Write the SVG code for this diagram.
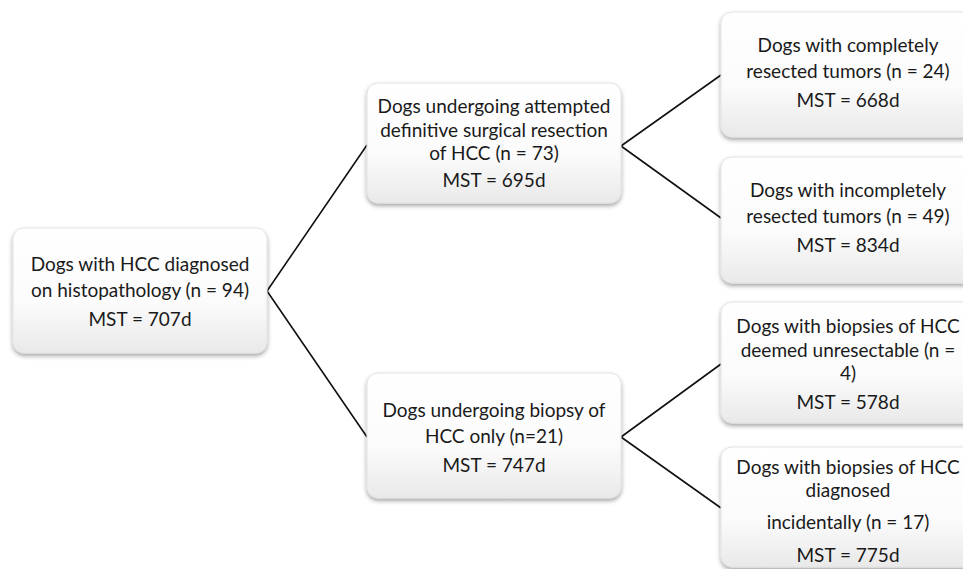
<svg xmlns="http://www.w3.org/2000/svg" width="963" height="569" viewBox="0 0 963 569">
<style>
.box{fill:url(#g);stroke:#e2e2e2;stroke-width:1;filter:url(#sh)}
.t{font-family:Lato,"Liberation Sans",sans-serif;font-size:19px;fill:#1a1a1a;text-anchor:middle}
.c{stroke:#111;stroke-width:1.6;fill:none}
</style>
<defs>
<linearGradient id="g" x1="0" y1="0" x2="0" y2="1">
<stop offset="0" stop-color="#ffffff"/>
<stop offset="0.6" stop-color="#fbfbfb"/>
<stop offset="1" stop-color="#e9e9e9"/>
</linearGradient>
<filter id="sh" x="-10%" y="-10%" width="120%" height="125%">
<feDropShadow dx="0" dy="2.5" stdDeviation="2" flood-color="#000" flood-opacity="0.35"/>
</filter>
</defs>
<rect width="963" height="569" fill="#fff"/>
<g id="connectors">
<path class="c" d="M267 291 L367 145 M267 291 L367 437"/>
<path class="c" d="M621 146 L721 75 M621 146 L721 218"/>
<path class="c" d="M621 437 L721 364 M621 437 L721 508"/>
</g>
<g id="root">
<rect class="box" x="13" y="228" width="254" height="125" rx="11"/>
<text class="t" x="140" y="271">Dogs with HCC diagnosed</text>
<text class="t" x="140" y="297">on histopathology (n = 94)</text>
<text class="t" x="140" y="326">MST = 707d</text>
</g>
<g id="resection">
<rect class="box" x="367" y="83" width="254" height="120" rx="11"/>
<text class="t" x="494" y="113">Dogs undergoing attempted</text>
<text class="t" x="494" y="137">definitive surgical resection</text>
<text class="t" x="494" y="160">of HCC (n = 73)</text>
<text class="t" x="494" y="187">MST = 695d</text>
</g>
<g id="biopsy">
<rect class="box" x="367" y="373" width="254" height="125" rx="11"/>
<text class="t" x="494" y="417">Dogs undergoing biopsy of</text>
<text class="t" x="494" y="443">HCC only (n=21)</text>
<text class="t" x="494" y="472">MST = 747d</text>
</g>
<g id="complete">
<rect class="box" x="721" y="12" width="254" height="125" rx="11"/>
<text class="t" x="848" y="52">Dogs with completely</text>
<text class="t" x="848" y="78">resected tumors (n = 24)</text>
<text class="t" x="848" y="107">MST = 668d</text>
</g>
<g id="incomplete">
<rect class="box" x="721" y="157" width="254" height="126" rx="11"/>
<text class="t" x="848" y="197">Dogs with incompletely</text>
<text class="t" x="848" y="223">resected tumors (n = 49)</text>
<text class="t" x="848" y="252">MST = 834d</text>
</g>
<g id="unresectable">
<rect class="box" x="721" y="302" width="254" height="121" rx="11"/>
<text class="t" x="848" y="333">Dogs with biopsies of HCC</text>
<text class="t" x="848" y="357">deemed unresectable (n =</text>
<text class="t" x="848" y="380">4)</text>
<text class="t" x="848" y="409">MST = 578d</text>
</g>
<g id="incidental">
<rect class="box" x="721" y="447" width="254" height="120" rx="11"/>
<text class="t" x="848" y="474">Dogs with biopsies of HCC</text>
<text class="t" x="848" y="497">diagnosed</text>
<text class="t" x="848" y="529">incidentally (n = 17)</text>
<text class="t" x="848" y="562">MST = 775d</text>
</g>
</svg>
